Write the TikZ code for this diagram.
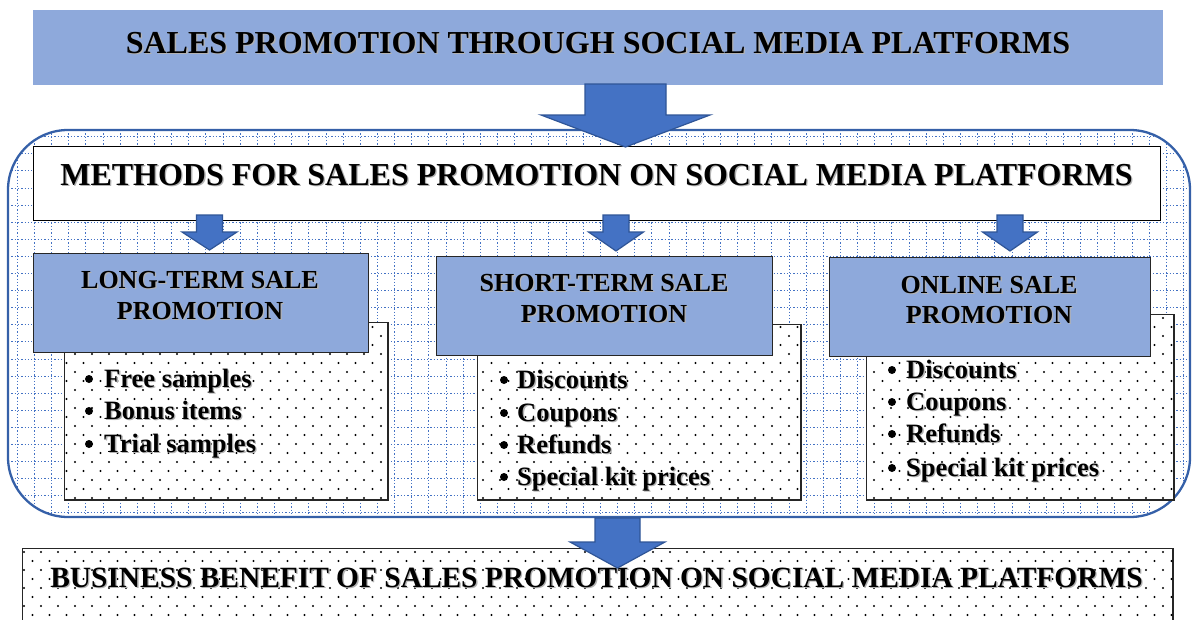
\documentclass[tikz,border=0pt]{standalone}
\usepackage{fontspec}
\setmainfont{Liberation Serif}
\definecolor{hdfill}{HTML}{8EA9DB}
\definecolor{arrfill}{HTML}{4472C4}
\definecolor{arrline}{HTML}{2F5597}
\definecolor{gridc}{HTML}{4472C4}
\definecolor{contline}{HTML}{3560A8}
\newcommand\shd[1]{\makebox[0pt][l]{\raisebox{-1.3pt}{\hspace{1.3pt}\textcolor{black!30}{#1}}}#1}
\newcommand\blockarrow[6]{%
  \filldraw[barrow] ({#1-#5},#2) -- ({#1+#5},#2) -- ({#1+#5},#3) -- ({#1+#6},#3)
    -- (#1,#4) -- ({#1-#6},#3) -- ({#1-#5},#3) -- cycle;}
\tikzset{
  barrow/.style={fill=arrfill, draw=arrline, line width=1.2pt, line join=miter},
  gridline/.style={gridc, line width=1pt, dash pattern=on 1.3pt off 2pt},
  hdbox/.style={draw=black!85, line width=1.1pt, fill=hdfill, inner sep=0pt, anchor=north west},
  listbox/.style={draw=black!85, line width=1pt, inner sep=0pt, anchor=north west},
  bigtxt/.style={font=\fontsize{32}{36}\selectfont\bfseries, anchor=base, inner sep=0pt},
  hdtxt/.style={font=\fontsize{26}{30}\selectfont\bfseries, anchor=base, inner sep=0pt},
  itemtxt/.style={font=\fontsize{26.5}{30}\selectfont\bfseries, anchor=base west, inner sep=0pt},
  bul/.style={circle, fill=black, inner sep=0pt, minimum size=8pt},
}
\begin{document}
\begin{tikzpicture}[x=1pt,y=-1pt]
\useasboundingbox (0,0) rectangle (1193,619);

% title
\node[fill=hdfill, minimum width=1130pt, minimum height=75pt, inner sep=0pt, anchor=north west] (title) at (33,10) {};
\node[bigtxt] (titletxt) at (598,53) {\shd{SALES PROMOTION THROUGH SOCIAL MEDIA PLATFORMS}};

% container with dotted grid
\begin{scope}
  \clip[rounded corners=60pt] (8,130) rectangle (1190,517);
  \fill[white] (8,130) rectangle (1190,517);
  \foreach \i in {0,...,69} \draw[gridline] ({17.3+17.15*\i},130) -- ({17.3+17.15*\i},517);
  \foreach \j in {0,...,22} \draw[gridline] (8,{136.7+17.1*\j}) -- (1190,{136.7+17.1*\j});
\end{scope}
\draw[contline, line width=2.3pt, rounded corners=60pt] (8,130) rectangle (1190,517);

% methods box
\node[draw=black, line width=1.1pt, fill=white, minimum width=1127pt, minimum height=74pt, inner sep=0pt, anchor=north west] (methods) at (33,146) {};
\node[bigtxt] (methodstxt) at (596.5,185) {\shd{METHODS FOR SALES PROMOTION ON SOCIAL MEDIA PLATFORMS}};

% list boxes and bottom box (white), dots, borders
\node[listbox, fill=white, minimum width=323pt, minimum height=177pt] (ltlist) at (64,322) {};
\node[listbox, fill=white, minimum width=323pt, minimum height=175pt] (stlist) at (477,324) {};
\node[listbox, fill=white, minimum width=307pt, minimum height=185pt] (ollist) at (866,314) {};
\node[listbox, fill=white, minimum width=1150pt, minimum height=80pt] (bottom) at (22,548) {};
\begin{scope}
  \clip (ltlist.north west) rectangle (ltlist.south east)
        (stlist.north west) rectangle (stlist.south east)
        (ollist.north west) rectangle (ollist.south east)
        (bottom.north west) rectangle (bottom.south east);
  \foreach \r in {0,...,34} {
    \pgfmathsetmacro{\yy}{318+9*\r}
    \pgfmathsetmacro{\xo}{mod(\r,2)*8.5}
    \foreach \c in {0,...,68}
      \fill[black] ({24+\xo+17*\c},\yy) circle (1.05pt);
  }
\end{scope}
\foreach \n in {ltlist,stlist,ollist,bottom}
  \draw[black!85, line width=1pt] (\n.north west) rectangle (\n.south east);

% heading boxes
\node[hdbox, minimum width=335pt, minimum height=99pt] (lthead) at (33,253) {};
\node[hdbox, minimum width=336pt, minimum height=99pt] (sthead) at (436,256) {};
\node[hdbox, minimum width=321pt, minimum height=99pt] (olhead) at (829,257) {};

\node[hdtxt] (lt1) at (200,288) {\shd{LONG-TERM SALE}};
\node[hdtxt] (lt2) at (200,319) {\shd{PROMOTION}};
\node[hdtxt] (st1) at (604,291) {\shd{SHORT-TERM SALE}};
\node[hdtxt] (st2) at (604,322) {\shd{PROMOTION}};
\node[hdtxt] (ol1) at (989,293) {\shd{ONLINE SALE}};
\node[hdtxt] (ol2) at (989,323) {\shd{PROMOTION}};

% items
\foreach \t/\y [count=\k] in {Free samples/387, Bonus items/419, Trial samples/452} {
  \node[bul] (ltb\k) at (89,{\y-8}) {};
  \node[itemtxt] (lti\k) at (104,\y) {\shd{\t}};
}
\foreach \t/\y [count=\k] in {Discounts/388, Coupons/421, Refunds/453, Special kit prices/485} {
  \node[bul] (stb\k) at (504,{\y-8}) {};
  \node[itemtxt] (sti\k) at (517,\y) {\shd{\t}};
}
\foreach \t/\y [count=\k] in {Discounts/378, Coupons/410, Refunds/442, Special kit prices/476} {
  \node[bul] (olb\k) at (892,{\y-8}) {};
  \node[itemtxt] (oli\k) at (906,\y) {\shd{\t}};
}

% bottom text
\node[font=\fontsize{29.4}{34}\selectfont\bfseries, anchor=base, inner sep=0pt] (bottomtxt) at (596.5,587) {\shd{BUSINESS BENEFIT OF SALES PROMOTION ON SOCIAL MEDIA PLATFORMS}};

% block arrows
\blockarrow{625.5}{84}{115}{147}{40.5}{84.5}
\blockarrow{209.5}{215}{232}{250}{13}{27.5}
\blockarrow{616}{215}{232}{251}{13}{27.5}
\blockarrow{1010}{215}{232}{251}{13}{27.5}
\blockarrow{617.5}{518}{542}{568}{22.5}{47.5}
\end{tikzpicture}
\end{document}
